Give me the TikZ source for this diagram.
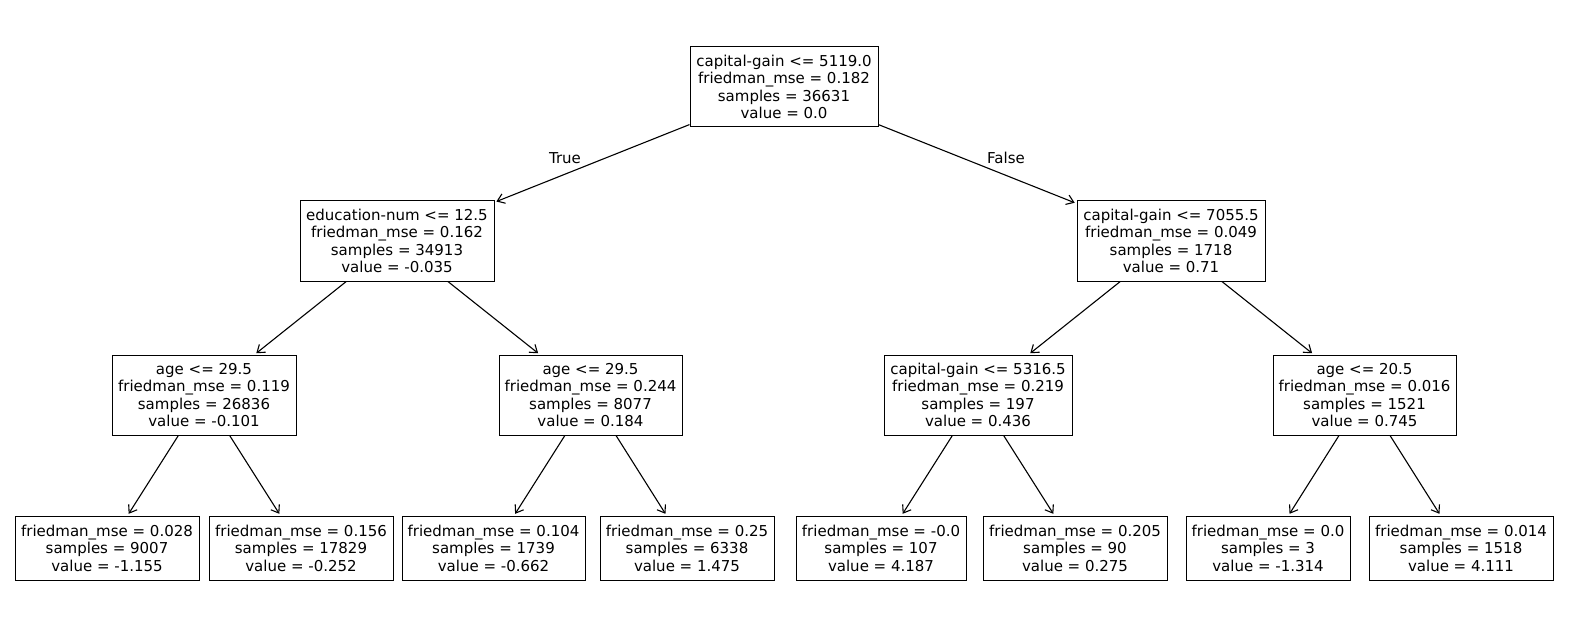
\documentclass[tikz,border=0pt]{standalone}
\usepackage{fontspec}
\setmainfont{DejaVu Sans}
\usetikzlibrary{arrows.meta}
\begin{document}
\begin{tikzpicture}[x=1pt,y=-1pt,
  box/.style={draw, line width=1pt, align=center, inner sep=0pt, font=\fontsize{15}{17.5}\selectfont},
  big/.style={box, minimum height=80pt},
  leaf/.style={box, minimum height=64pt},
  lbl/.style={inner sep=0pt, font=\fontsize{15}{17.5}\selectfont},
  edge/.style={-{Straight Barb[length=7pt,width=10pt]}, line width=1.1pt, shorten >=2pt}]
\useasboundingbox (0,0) rectangle (1570,636);
% root
\node[big, minimum width=188pt] (n0) at (784,87) {capital-gain <= 5119.0\\friedman\_mse = 0.182\\samples = 36631\\value = 0.0};
% level 1
\node[big, minimum width=194pt] (n1) at (397,241) {education-num <= 12.5\\friedman\_mse = 0.162\\samples = 34913\\value = -0.035};
\node[big, minimum width=188pt] (n2) at (1171,241) {capital-gain <= 7055.5\\friedman\_mse = 0.049\\samples = 1718\\value = 0.71};
% level 2
\node[big, minimum width=184pt] (n3) at (204,395) {age <= 29.5\\friedman\_mse = 0.119\\samples = 26836\\value = -0.101};
\node[big, minimum width=183pt] (n4) at (590.5,395) {age <= 29.5\\friedman\_mse = 0.244\\samples = 8077\\value = 0.184};
\node[big, minimum width=188pt] (n5) at (978,395) {capital-gain <= 5316.5\\friedman\_mse = 0.219\\samples = 197\\value = 0.436};
\node[big, minimum width=183pt] (n6) at (1364.5,395) {age <= 20.5\\friedman\_mse = 0.016\\samples = 1521\\value = 0.745};
% leaves
\node[leaf, minimum width=184pt] (l1) at (107,548) {friedman\_mse = 0.028\\samples = 9007\\value = -1.155};
\node[leaf, minimum width=184pt] (l2) at (301,548) {friedman\_mse = 0.156\\samples = 17829\\value = -0.252};
\node[leaf, minimum width=183pt] (l3) at (493.5,548) {friedman\_mse = 0.104\\samples = 1739\\value = -0.662};
\node[leaf, minimum width=174pt] (l4) at (687,548) {friedman\_mse = 0.25\\samples = 6338\\value = 1.475};
\node[leaf, minimum width=170pt] (l5) at (881,548) {friedman\_mse = -0.0\\samples = 107\\value = 4.187};
\node[leaf, minimum width=184pt] (l6) at (1075,548) {friedman\_mse = 0.205\\samples = 90\\value = 0.275};
\node[leaf, minimum width=164pt] (l7) at (1268,548) {friedman\_mse = 0.0\\samples = 3\\value = -1.314};
\node[leaf, minimum width=184pt] (l8) at (1461,548) {friedman\_mse = 0.014\\samples = 1518\\value = 4.111};
% edges
\draw[edge] (n0) -- (n1);
\draw[edge] (n0) -- (n2);
\draw[edge] (n1) -- (n3);
\draw[edge] (n1) -- (n4);
\draw[edge] (n2) -- (n5);
\draw[edge] (n2) -- (n6);
\draw[edge] (n3) -- (l1);
\draw[edge] (n3) -- (l2);
\draw[edge] (n4) -- (l3);
\draw[edge] (n4) -- (l4);
\draw[edge] (n5) -- (l5);
\draw[edge] (n5) -- (l6);
\draw[edge] (n6) -- (l7);
\draw[edge] (n6) -- (l8);
% labels
\node[lbl] (tl) at (565,158) {True};
\node[lbl] (fl) at (1006,158) {False};
\end{tikzpicture}
\end{document}
